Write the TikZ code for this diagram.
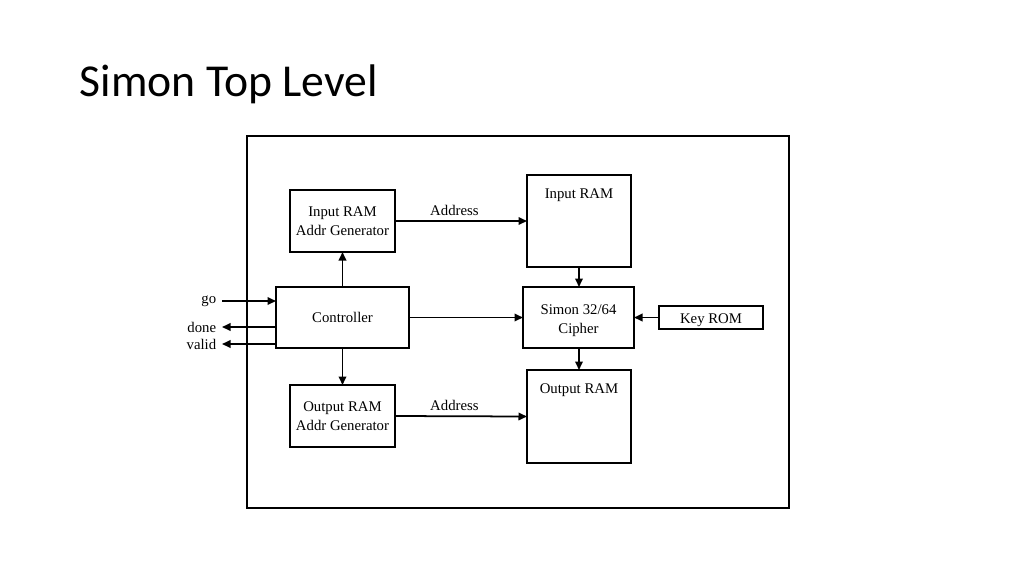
\documentclass[tikz,border=0pt]{standalone}
\usepackage{fontspec}
\setmainfont{Liberation Serif}
\newfontfamily\titlefont{Carlito}
\usetikzlibrary{arrows.meta}

\begin{document}
\begin{tikzpicture}[x=0.2mm, y=-0.2mm, font=\fontsize{8.4}{10.8}\selectfont, line width=1pt, >={Triangle[length=1.7mm, width=1.5mm]}, every node/.style={outer sep=0pt, align=center}, box/.style={draw, fill=white, inner sep=0pt}]
	\useasboundingbox (0, 0) rectangle (1024, 576);
	
	% Tiêu đề
	\node[anchor=base west, font=\titlefont\fontsize{26}{30}\selectfont] (title) at (74, 96) {Simon Top Level};
	
	% Khung ngoài
	\draw (247, 136) rectangle (789, 508);
	
	% Các khối
	\node[box, minimum width=26.6mm, minimum height=12.2mm] (ctrl) at (342.5, 317.5) {Controller};
	\node[box, minimum width=21mm, minimum height=12.4mm] (iagen) at (342.5, 221) {Input RAM\\Addr Generator};
	\node[box, minimum width=21mm, minimum height=12.4mm] (oagen) at (342.5, 416) {Output RAM\\Addr Generator};
	\node[box, minimum width=20.8mm, minimum height=18.4mm, label={[anchor=north, yshift=-1.5mm]north:Input RAM}] (iram) at (579, 221) {};
	\node[box, minimum width=20.8mm, minimum height=18.6mm, label={[anchor=north, yshift=-1.5mm]north:Output RAM}] (oram) at (579, 416.5) {};
	\node[box, minimum width=22.2mm, minimum height=12.2mm] (cipher) at (578.5, 317.5) {\raisebox{-0.6mm}[\height][\depth]{\shortstack{Simon 32/64\\[0.6mm]Cipher}}};
	\node[box, minimum width=20.8mm, minimum height=4.6mm] (keyrom) at (711, 317.5) {\raisebox{-0.6mm}[\height][\depth]{Key ROM}};
	
	% Các mũi tên
	\draw[->] (iagen.east) -- node[above, pos=0.45] (iaddr) {Address} (iram.west);
	\draw[->] (oagen.east) -- node[above, pos=0.45] (oaddr) {Address} (oram.west);
	\draw[->] (ctrl.north) -- (iagen.south);
	\draw[->] (ctrl.south) -- (oagen.north);
	\draw[->] (ctrl.east) -- (cipher.west);
	\draw[->] (keyrom.west) -- (cipher.east);
	\draw[->] (iram.south) -- (iram.south |- cipher.north);
	\draw[->] (cipher.south -| oram.north) -- (oram.north);
	
	% Tín hiệu vào/ra
	\node[anchor=east] (go) at (222, 301) {go};
	\node[anchor=east] (done) at (222, 327) {done};
	\node[anchor=east] (valid) at (222, 344) {valid};
	\draw[->] (go.east) -- (go.east -| ctrl.west);
	\draw[->] (done.east -| ctrl.west) -- (done.east);
	\draw[->] (valid.east -| ctrl.west) -- (valid.east);
	
\end{tikzpicture}
\end{document}
